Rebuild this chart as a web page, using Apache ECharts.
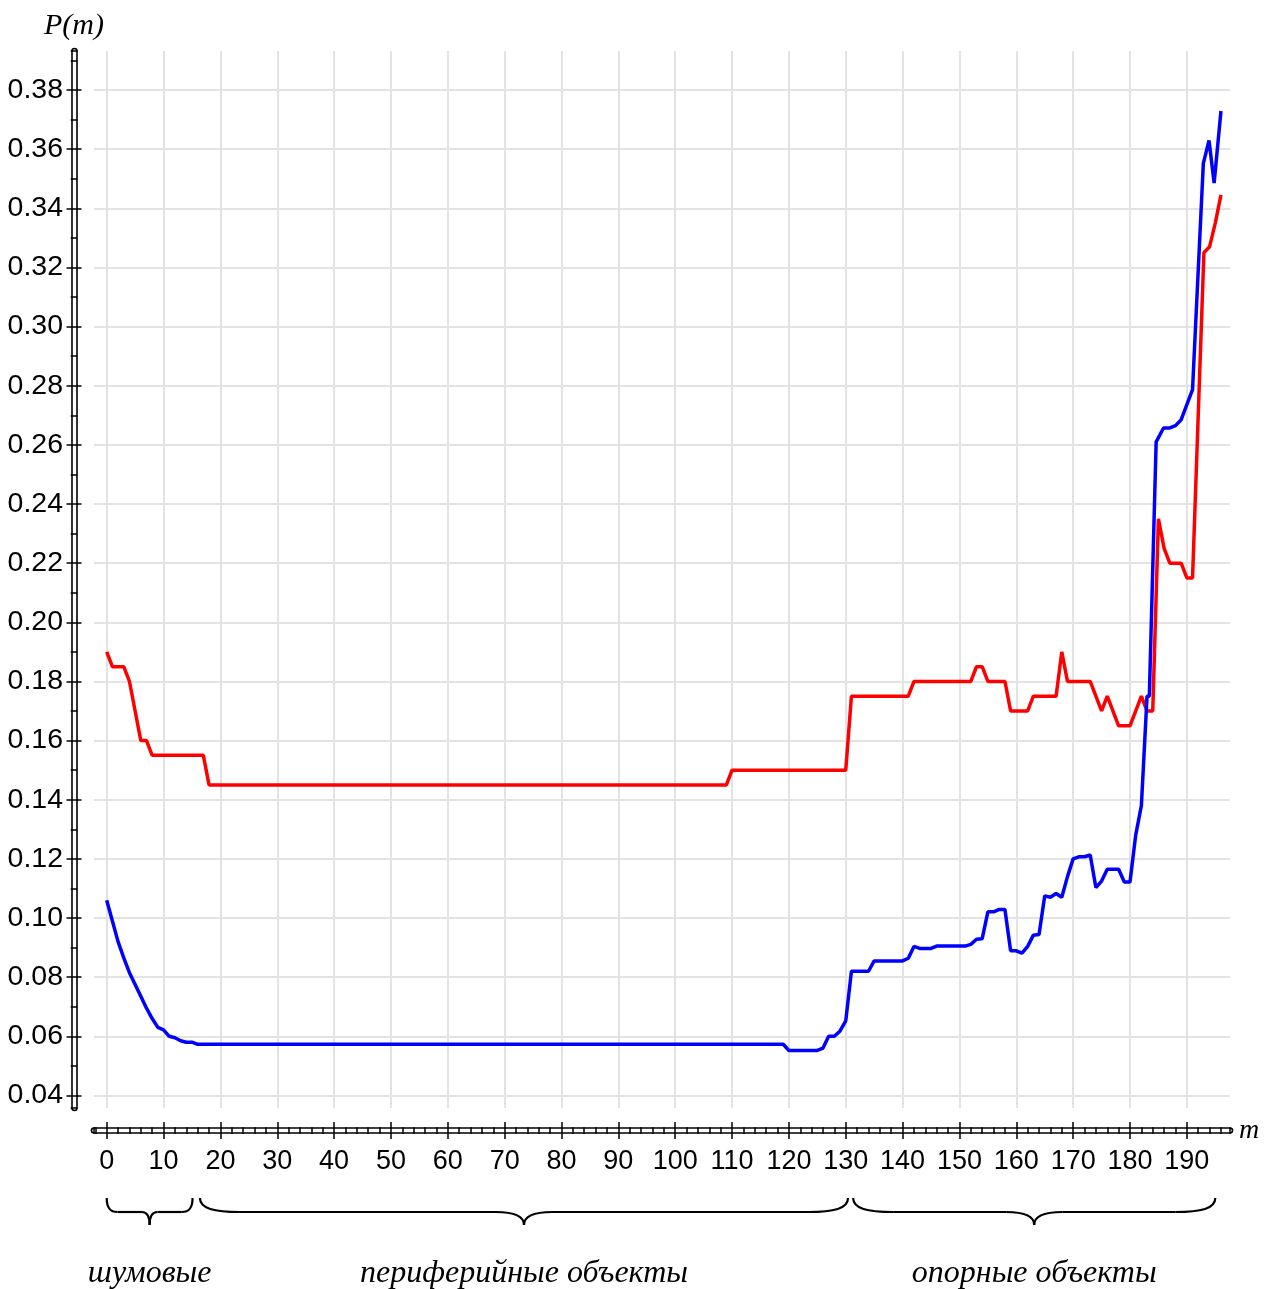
<!DOCTYPE html>
<html>
<head>
<meta charset="utf-8">
<script src="https://cdn.jsdelivr.net/npm/echarts@6/dist/echarts.min.js"></script>
<style>
  html, body { margin: 0; padding: 0; background: #fff; }
  #chart { width: 1277px; height: 1289px; }
</style>
</head>
<body>
<div id="chart"></div>
<script>
// Axis ranges
const M_MIN = -2.234, M_MAX = 197.59;
const P_MIN = 0.03575, P_MAX = 0.39318;

// Tick values
const mTicks = [0, 10, 20, 30, 40, 50, 60, 70, 80, 90, 100, 110, 120, 130, 140, 150, 160, 170, 180, 190];
const pTicks = [0.04, 0.06, 0.08, 0.10, 0.12, 0.14, 0.16, 0.18, 0.20, 0.22, 0.24, 0.26, 0.28, 0.30, 0.32, 0.34, 0.36, 0.38];

// Red curve
const redM = [0, 1, 3, 4, 5, 6, 7, 8, 17, 18, 109, 110, 130, 131, 141, 142, 152, 153, 154, 155, 158, 159, 162, 163, 167, 168, 169, 173, 175, 176, 178, 180, 182, 183, 184, 185, 186, 187, 189, 190, 191, 193, 194, 195, 196];
const redP = [0.19, 0.185, 0.185, 0.18, 0.17, 0.16, 0.16, 0.155, 0.155, 0.145, 0.145, 0.15, 0.15, 0.175, 0.175, 0.18, 0.18, 0.185, 0.185, 0.18, 0.18, 0.17, 0.17, 0.175, 0.175, 0.19, 0.18, 0.18, 0.17, 0.175, 0.165, 0.165, 0.175, 0.17, 0.17, 0.235, 0.225, 0.22, 0.22, 0.215, 0.215, 0.325, 0.327, 0.335, 0.3445];

// Blue curve
const blueM = [0, 1, 2, 3, 4, 5, 6, 7, 8, 9, 10, 11, 12, 13, 14, 15, 16, 119, 120, 125, 126, 127, 128, 129, 130, 131, 134, 135, 140, 141, 142, 143, 145, 146, 151, 152, 153, 154, 155, 156, 157, 158, 159, 160, 161, 162, 163, 164, 165, 166, 167, 168, 169, 170, 171, 172, 173, 174, 175, 176, 178, 179, 180, 181, 182, 183, 183.4, 184.6, 185.9, 187, 188, 189, 191, 192.9, 193.9, 194.8, 196];
const blueP = [0.106, 0.099, 0.092, 0.0865, 0.0815, 0.0775, 0.0735, 0.0695, 0.066, 0.063, 0.0622, 0.060, 0.0595, 0.0585, 0.058, 0.058, 0.0573, 0.0573, 0.0552, 0.0552, 0.056, 0.060, 0.060, 0.0618, 0.0652, 0.082, 0.082, 0.0855, 0.0855, 0.0864, 0.0904, 0.0897, 0.0897, 0.0905, 0.0905, 0.0911, 0.0928, 0.093, 0.1021, 0.1021, 0.1029, 0.1029, 0.0889, 0.0889, 0.0881, 0.0904, 0.0942, 0.0944, 0.1075, 0.107, 0.1083, 0.107, 0.114, 0.12, 0.1207, 0.1207, 0.1213, 0.1103, 0.1125, 0.1165, 0.1165, 0.1122, 0.1122, 0.128, 0.138, 0.175, 0.175, 0.261, 0.2657, 0.2657, 0.2665, 0.2685, 0.2787, 0.3552, 0.3629, 0.3485, 0.3729];

// Groups of m marked with braces under the axis
const groupFrom = [0, 16.4, 131.3];
const groupTo = [15.1, 130.4, 195];
const groupLabels = ['шумовые', 'периферийные объекты', 'опорные объекты'];

const SANS = '"Liberation Sans", Arial, sans-serif';
const SERIF = '"Liberation Serif", "Times New Roman", serif';
const GRID_COLOR = '#e3e3e3';

const chart = echarts.init(document.getElementById('chart'), null, { renderer: 'canvas' });

function xAxisBase(extra) {
  return Object.assign({
    type: 'value', min: M_MIN, max: M_MAX, splitNumber: 20, minInterval: 10, maxInterval: 10,
    position: 'bottom', axisLine: { show: false, onZero: false }, axisTick: { show: false },
    axisLabel: { show: false }, splitLine: { show: false }, minorTick: { show: false }
  }, extra);
}
function yAxisBase(extra) {
  return Object.assign({
    type: 'value', min: P_MIN, max: P_MAX, splitNumber: 18, minInterval: 0.02, maxInterval: 0.02,
    position: 'left', axisLine: { show: false, onZero: false }, axisTick: { show: false },
    axisLabel: { show: false }, splitLine: { show: false }, minorTick: { show: false }
  }, extra);
}

const option = {
  animation: false,
  backgroundColor: '#fff',
  grid: { left: 94, right: 47, top: 51, bottom: 181, containLabel: false },
  xAxis: [
    xAxisBase({
      offset: 22.5, z: 0,
      axisLine: { show: true, onZero: false, lineStyle: { color: '#000', width: 6.6 } },
      axisLabel: { show: true, customValues: mTicks, margin: 18, fontSize: 27, color: '#000', fontFamily: SANS },
      splitLine: { show: true, showMinLine: false, showMaxLine: false, lineStyle: { color: GRID_COLOR, width: 2 } },
      name: 'm', nameLocation: 'end', nameGap: 9,
      nameTextStyle: { fontFamily: SERIF, fontStyle: 'italic', fontSize: 28, color: '#000', align: 'left', verticalAlign: 'middle', padding: [14, 0, 0, 0] }
    }),
    xAxisBase({ offset: 22.5, z: 1, axisLine: { show: true, onZero: false, lineStyle: { color: '#fff', width: 3.4 } } }),
    xAxisBase({
      offset: 19.2, z: 2,
      axisTick: { show: true, inside: false, length: 6.6, lineStyle: { color: '#000', width: 1.5 } },
      minorTick: { show: true, splitNumber: 5, length: 6.6, lineStyle: { color: '#000', width: 1.5 } }
    }),
    xAxisBase({
      offset: 14, z: 2,
      axisTick: { show: true, inside: false, customValues: mTicks, length: 17, lineStyle: { color: '#000', width: 1.5 } }
    })
  ],
  yAxis: [
    yAxisBase({
      offset: 20, z: 0,
      axisLine: { show: true, onZero: false, lineStyle: { color: '#000', width: 6.6 } },
      axisLabel: { show: true, customValues: pTicks, margin: 11, fontSize: 28.5, color: '#000', fontFamily: SANS,
        padding: [8, 0, 0, 0], formatter: v => Number(v).toFixed(2) },
      splitLine: { show: true, showMinLine: false, showMaxLine: false, lineStyle: { color: GRID_COLOR, width: 2 } },
      name: 'P(m)', nameLocation: 'end', nameGap: 25,
      nameTextStyle: { fontFamily: SERIF, fontStyle: 'italic', fontSize: 30, color: '#000', align: 'center', verticalAlign: 'middle' }
    }),
    yAxisBase({ offset: 20, z: 1, axisLine: { show: true, onZero: false, lineStyle: { color: '#fff', width: 3.4 } } }),
    yAxisBase({
      offset: 23.3, z: 2,
      axisTick: { show: true, inside: true, length: 6.6, lineStyle: { color: '#000', width: 1.5 } },
      minorTick: { show: true, splitNumber: 2, length: 6.6, lineStyle: { color: '#000', width: 1.5 } }
    }),
    yAxisBase({
      offset: 27.5, z: 2,
      axisTick: { show: true, inside: true, customValues: pTicks, length: 15, lineStyle: { color: '#000', width: 1.5 } }
    })
  ],
  series: [
    {
      type: 'line', name: 'red', xAxisIndex: 0, yAxisIndex: 0,
      data: redM.map((m, i) => [m, redP[i]]),
      showSymbol: false, symbol: 'none',
      lineStyle: { color: '#ff0000', width: 3.5 }, z: 3
    },
    {
      type: 'line', name: 'blue', xAxisIndex: 0, yAxisIndex: 0,
      data: blueM.map((m, i) => [m, blueP[i]]),
      showSymbol: false, symbol: 'none',
      lineStyle: { color: '#0000ff', width: 3.5 }, z: 4
    },
    {
      // braces with captions below the m axis
      type: 'custom', xAxisIndex: 0, yAxisIndex: 0, clip: false, silent: true,
      encode: { x: [0, 1], y: 2 },
      data: groupFrom.map((f, i) => [f, groupTo[i], P_MIN]),
      renderItem: function (params, api) {
        const xa = api.coord([api.value(0), P_MIN])[0];
        const xb = api.coord([api.value(1), P_MIN])[0];
        const cs = params.coordSys;
        const base = cs.y + cs.height;
        const top = base + 90, flat = base + 104, tip = base + 117;
        const xc = (xa + xb) / 2, w = xb - xa;
        const r = Math.min(40, w * 0.125);
        const rm = Math.min(28, w * 0.09);
        const st = { stroke: '#000', lineWidth: 2.2, fill: null };
        const bez = (x1, y1, cpx1, cpy1, cpx2, cpy2, x2, y2) => ({
          type: 'bezierCurve', shape: { x1, y1, cpx1, cpy1, cpx2, cpy2, x2, y2 }, style: st
        });
        return {
          type: 'group',
          children: [
            bez(xa, top, xa, top + (flat - top) * 0.75, xa + r * 0.35, flat, xa + r, flat),
            { type: 'line', shape: { x1: xa + r, y1: flat, x2: xc - rm, y2: flat }, style: st },
            bez(xc - rm, flat, xc - rm * 0.35, flat, xc, flat + (tip - flat) * 0.3, xc, tip),
            bez(xc, tip, xc, flat + (tip - flat) * 0.3, xc + rm * 0.35, flat, xc + rm, flat),
            { type: 'line', shape: { x1: xc + rm, y1: flat, x2: xb - r, y2: flat }, style: st },
            bez(xb - r, flat, xb - r * 0.35, flat, xb, top + (flat - top) * 0.75, xb, top),
            {
              type: 'text', x: xc, y: base + 166,
              style: {
                text: groupLabels[params.dataIndex], fill: '#000',
                font: 'italic 32px ' + SERIF, align: 'center', verticalAlign: 'middle'
              }
            }
          ]
        };
      }
    }
  ]
};

chart.setOption(option);
</script>
</body>
</html>
